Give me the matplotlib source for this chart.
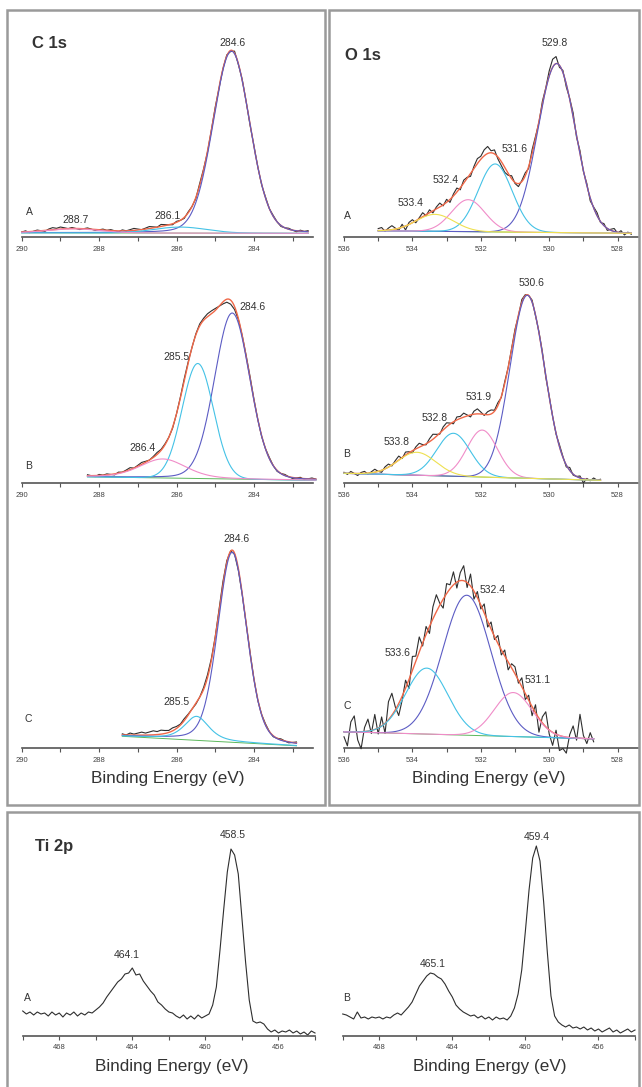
import numpy as np
import matplotlib
matplotlib.use("Agg")
import matplotlib.pyplot as plt
from matplotlib.patches import Rectangle

plt.rcParams['font.family'] = ['Liberation Sans', 'DejaVu Sans']

# ---------------- DATA ----------------
# Fitted components: centre (eV), height (a.u. above baseline), FWHM (eV), Lorentzian fraction
c1s_a_range = (290.0, 282.6)
c1s_a_base = (4.5, 4.0)
c1s_a_centers = [284.58, 285.9, 288.65]
c1s_a_heights = [182, 6, 4]
c1s_a_fwhm = [1.12, 1.6, 1.6]
c1s_a_eta = [0.12, 0.0, 0.0]
c1s_a_resid = [0, 1, -1, 0, 1, 0, -1, 1, 2, 1, 2, 1, 0, 1, 0, -1, 0, 1, 0, -1,
               0, 1, 0, 1, 0, -1, 1, 0, 1, 2, 1, 0, 1, 2, 1, 0, 2, 1, 0, -1,
               1, 0, -1, 1, 0, -1, 2, 1, -1, 0, 1, -1, 0, 1, -1, 2, -1, 1, 0, -1,
               1, 0, -1, 1, 0, 1, 0, -1, 0, 1, 0, -1, 1, 0, 1]
c1s_a_labels = ["284.6", "286.1", "288.7"]

c1s_b_range = (288.3, 282.4)
c1s_b_base = (6.5, 3.0)
c1s_b_centers = [284.56, 285.45, 286.35]
c1s_b_heights = [166, 115, 19]
c1s_b_fwhm = [1.08, 0.95, 1.4]
c1s_b_eta = [0.1, 0.0, 0.3]
c1s_b_resid = [1, 0, -1, 1, 0, 1, 0, -1, 1, 0, 1, 2, 0, 1, 2, 1, 0, 1, 2, 1,
               1, 0, -1, 0, 1, 2, 1, 0, 1, 2, 2, 3, 3, 2, 0, -2, -3, -4, -3, -1,
               0, 1, 2, 1, 0, -1, 0, 1, 0, -1, 0, 1, 0, -1, 0, 1, -1, 0, 1, 0]
c1s_b_labels = ["284.6", "285.5", "286.4"]

c1s_c_range = (287.4, 282.9)
c1s_c_base = (12.0, 2.5)
c1s_c_centers = [284.56, 285.48]
c1s_c_heights = [190, 24]
c1s_c_fwhm = [0.88, 0.75]
c1s_c_eta = [0.2, 0.6]
c1s_c_resid = [1, 0, 2, 1, 2, 3, 2, 3, 4, 3, 4, 3, 2, 3, 2, 1, 2, 1, 0, -1,
               0, 2, 3, 2, 1, 2, 3, 2, 0, -1, -2, -1, 0, 1, 0, -1, 0, 1, 0, -1,
               0, 1, 0, -1, 0, 1]
c1s_c_labels = ["284.6", "285.5"]

o1s_a_range = (535.0, 527.6)
o1s_a_base = (6.5, 4.0)
o1s_a_centers = [529.78, 531.58, 532.37, 533.34]
o1s_a_heights = [169, 68, 32, 17]
o1s_a_fwhm = [1.3, 1.17, 1.15, 1.3]
o1s_a_eta = [0.0, 0.0, 0.0, 0.0]
o1s_a_resid = [2, 3, -1, 2, 4, 1, -2, 3, -4, 2, 3, -2, 1, 4, -1, 3, -2, 2, 4, -1,
               3, -3, 2, 4, -2, 3, 1, -3, 2, 5, 3, 6, 7, 2, 4, -2, -4, -5, -2, 3,
               -1, -3, 1, 3, -2, 4, 2, -1, 3, 1, 5, 8, 7, -2, 2, -3, 1, 4, -2, 3,
               -1, 2, -3, 1, 3, -1, 2, -2, 1, 3, -1, 2, -2, 1, -1]
o1s_a_labels = ["529.8", "531.6", "532.4", "533.4"]

o1s_b_range = (536.0, 528.5)
o1s_b_base = (10.0, 3.0)
o1s_b_centers = [530.64, 531.96, 532.8, 533.87]
o1s_b_heights = [183, 47, 43, 23]
o1s_b_fwhm = [1.19, 1.05, 1.15, 1.3]
o1s_b_eta = [0.0, 0.0, 0.0, 0.0]
o1s_b_resid = [1, -1, 2, 0, -2, 1, 2, -1, 1, 3, 0, -2, 2, 3, -1, 2, 4, -1, 3, 1,
               -2, 2, 4, 1, -1, 3, 5, 2, -1, 3, 4, 1, -2, 3, 2, 4, 1, -2, 3, 5,
               2, -1, 3, 4, 1, 3, -1, 2, 0, 1, 2, -1, 3, 1, 0, 2, -1, 1, 2, -2,
               1, 0, -1, 2, 1, -2, 3, -1, 0, 2, -4, 1, -1, 2, 0, 1]
o1s_b_labels = ["530.6", "531.9", "532.8", "533.8"]

o1s_c_range = (536.0, 528.7)
o1s_c_base = (16.5, 9.5)
o1s_c_centers = [532.41, 533.58, 531.05]
o1s_c_heights = [140, 66, 44]
o1s_c_fwhm = [1.66, 1.45, 1.3]
o1s_c_eta = [0.0, 0.0, 0.0]
o1s_c_resid = [-5, -14, 10, 16, -8, -17, 4, 12, -3, 15, -6, 9, -10, 18, 22, 3, -12, -4, 8, -9,
               14, 5, 15, -3, 8, -7, 12, 17, 2, -9, 10, 4, 13, -6, 8, 15, -5, 12, -8, 6,
               -4, 9, -6, 7, -3, 8, -5, 6, -8, 4, 7, -3, 9, -6, 5, -9, 8, -14, 6, 15,
               -4, -13, 4, -15, -12, -16, 3, 12, -2, 24, 3, -5, 6, -3]
o1s_c_labels = ["532.4", "533.6", "531.1"]

# Ti 2p raw spectra, 470 -> 454 eV
ti_range = (470.0, 454.0)
ti_a = [25, 22, 24, 21, 24, 22, 23, 20, 24, 21, 23, 19, 23, 21, 24, 20, 23, 21, 24, 23, 26,
        29, 33, 39, 44, 49, 54, 57, 62, 63, 68, 61, 62, 55, 50, 45, 41, 34, 31, 27, 24,
        23, 20, 18, 21, 17, 20, 17, 21, 18, 20,
        22, 31, 49, 86, 126, 164, 187, 181, 162, 118, 74, 36, 15, 13, 14, 12, 7, 4, 6, 3,
        5, 4, 6, 3, 5, 2, 4, 1, 5, 3]
ti_b = [22, 21, 19, 17, 24, 18, 19, 17, 19, 18, 19, 17, 19, 18, 21, 23, 21, 25, 29, 34, 42,
        50, 55, 60, 63, 62, 59, 57, 52, 45, 39, 31, 27, 24, 22, 20, 21, 18, 20, 17, 19,
        16, 19, 17, 18, 16, 20, 28, 42, 66, 105,
        146, 178, 190, 175, 134, 84, 40, 20, 14, 11, 9, 11, 8, 9, 7, 9, 6, 8, 5, 7,
        4, 6, 8, 4, 6, 3, 5, 7, 4, 6]
ti_a_labels = ["458.5", "464.1"]
ti_b_labels = ["459.4", "465.1"]

# ---------------- STYLE ----------------
W, H = 642, 1087
fig = plt.figure(figsize=(W / 100, H / 100), dpi=100)

RAW = "#2e2e2e"
ENV = "#f06848"
BLUE = "#5c5cc4"
CYAN = "#44c2e6"
PINK = "#f08cc8"
YELL = "#eee050"
GREEN = "#5cb85c"
AX = "#555555"
TXT = "#333333"


def fig_text(x, y, s, size=7.5, ha="center", weight="normal"):
    fig.text(x / W, 1 - y / H, s, fontsize=size, ha=ha, va="center",
             color=TXT, weight=weight)


def make_axes(left, right, bottom, xlim, major, minor):
    ax = fig.add_axes([left / W, 1 - bottom / H, (right - left) / W, 200 / H])
    ax.set_xlim(*xlim)
    ax.set_ylim(0, 200)
    ax.patch.set_alpha(0)
    for s in ("top", "right", "left"):
        ax.spines[s].set_visible(False)
    ax.spines["bottom"].set_color(AX)
    ax.spines["bottom"].set_linewidth(1.2)
    ax.set_yticks([])
    ax.set_xticks(major)
    ax.set_xticklabels([str(int(v)) for v in major])
    ax.set_xticks(minor, minor=True)
    ax.tick_params(axis="x", which="both", direction="out", length=3, width=0.8,
                   color=AX, labelsize=5.5, labelcolor="#444444", pad=3)
    return ax


def pv(e, c, h, w, eta):
    x = (e - c) / w
    return h * ((1 - eta) * np.exp(-4 * np.log(2) * x ** 2) + eta / (1 + 4 * x ** 2))


def fitted_panel(ax, rng, base, centers, heights, fwhm, eta, resid, colors):
    e_fine = np.linspace(rng[0], rng[1], 500)
    b_fine = np.linspace(base[0], base[1], 500)
    comps = [pv(e_fine, c, h, w, t) for c, h, w, t in zip(centers, heights, fwhm, eta)]
    env = b_fine + np.sum(comps, axis=0)
    e_raw = np.linspace(rng[0], rng[1], len(resid))
    b_raw = np.linspace(base[0], base[1], len(resid))
    raw = b_raw + np.sum([pv(e_raw, c, h, w, t) for c, h, w, t in
                          zip(centers, heights, fwhm, eta)], axis=0) + np.array(resid)
    ax.plot(e_raw, raw, color=RAW, lw=0.8, zorder=3, clip_on=False)
    ax.plot(e_fine, env, color=ENV, lw=1.0, zorder=4, clip_on=False)
    ax.plot(e_fine, b_fine, color=GREEN, lw=0.7, zorder=2, clip_on=False)
    for comp, col in zip(comps, colors):
        ax.plot(e_fine, b_fine + comp, color=col, lw=0.8, zorder=5, clip_on=False)


# ---------------- FRAMES ----------------
for (x0, y0, x1, y1) in [(7, 10, 325, 805), (329, 10, 639, 805), (7, 812, 639, 1095)]:
    fig.patches.append(Rectangle((x0 / W, 1 - y1 / H), (x1 - x0) / W, (y1 - y0) / H,
                                 transform=fig.transFigure, fill=False,
                                 edgecolor="#9a9a9a", lw=1.8, zorder=0))

# ---------------- C 1s ----------------
c_major = [290, 288, 286, 284]
c_minor = [289, 287, 285, 283]
c_xlim = (290, 290 - 291.6 / 38.7)
axA = make_axes(21.7, 313.3, 237.3, c_xlim, c_major, c_minor)
fitted_panel(axA, c1s_a_range, c1s_a_base, c1s_a_centers, c1s_a_heights, c1s_a_fwhm,
             c1s_a_eta, c1s_a_resid, [BLUE, CYAN, PINK])
axB = make_axes(21.7, 313.3, 483.3, c_xlim, c_major, c_minor)
fitted_panel(axB, c1s_b_range, c1s_b_base, c1s_b_centers, c1s_b_heights, c1s_b_fwhm,
             c1s_b_eta, c1s_b_resid, [BLUE, CYAN, PINK])
axC = make_axes(21.7, 313.3, 748.3, c_xlim, c_major, c_minor)
fitted_panel(axC, c1s_c_range, c1s_c_base, c1s_c_centers, c1s_c_heights, c1s_c_fwhm,
             c1s_c_eta, c1s_c_resid, [BLUE, CYAN])

fig_text(32, 44, "C 1s", size=12, ha="left", weight="bold")
fig_text(232, 43, c1s_a_labels[0])
fig_text(168, 216, c1s_a_labels[1])
fig_text(76, 220, c1s_a_labels[2])
fig_text(29, 212, "A")
fig_text(253, 307, c1s_b_labels[0])
fig_text(177, 357, c1s_b_labels[1])
fig_text(142, 448, c1s_b_labels[2])
fig_text(29, 466, "B")
fig_text(236, 539, c1s_c_labels[0])
fig_text(177, 702, c1s_c_labels[1])
fig_text(28, 719, "C")
fig_text(168, 778, "Binding Energy (eV)", size=12.3)

# ---------------- O 1s ----------------
o_major = [536, 534, 532, 530, 528]
o_minor = [535, 533, 531, 529]
o_xlim = (536, 536 - 294.3 / 34.2)
axOA = make_axes(344, 638.3, 237.3, o_xlim, o_major, o_minor)
fitted_panel(axOA, o1s_a_range, o1s_a_base, o1s_a_centers, o1s_a_heights, o1s_a_fwhm,
             o1s_a_eta, o1s_a_resid, [BLUE, CYAN, PINK, YELL])
axOB = make_axes(344, 638.3, 483.3, o_xlim, o_major, o_minor)
fitted_panel(axOB, o1s_b_range, o1s_b_base, o1s_b_centers, o1s_b_heights, o1s_b_fwhm,
             o1s_b_eta, o1s_b_resid, [BLUE, PINK, CYAN, YELL])
axOC = make_axes(344, 638.3, 748.3, o_xlim, o_major, o_minor)
fitted_panel(axOC, o1s_c_range, o1s_c_base, o1s_c_centers, o1s_c_heights, o1s_c_fwhm,
             o1s_c_eta, o1s_c_resid, [BLUE, CYAN, PINK])

fig_text(345, 55, "O 1s", size=12, ha="left", weight="bold")
fig_text(555, 43, o1s_a_labels[0])
fig_text(515, 149, o1s_a_labels[1])
fig_text(446, 180, o1s_a_labels[2])
fig_text(411, 203, o1s_a_labels[3])
fig_text(347, 216, "A")
fig_text(532, 283, o1s_b_labels[0])
fig_text(479, 397, o1s_b_labels[1])
fig_text(435, 418, o1s_b_labels[2])
fig_text(397, 442, o1s_b_labels[3])
fig_text(347, 454, "B")
fig_text(493, 590, o1s_c_labels[0])
fig_text(398, 653, o1s_c_labels[1])
fig_text(538, 680, o1s_c_labels[2])
fig_text(347, 706, "C")
fig_text(489, 778, "Binding Energy (eV)", size=12.3)

# ---------------- Ti 2p ----------------
t_major = [468, 464, 460, 456]
t_minor = [470, 466, 462, 458, 454]
axTA = make_axes(22.7, 315, 1036, ti_range, t_major, t_minor)
e_ti = np.linspace(ti_range[0], ti_range[1], len(ti_a))
axTA.plot(e_ti, ti_a, color=RAW, lw=0.8, clip_on=False)
axTB = make_axes(342.7, 635, 1036, ti_range, t_major, t_minor)
e_tib = np.linspace(ti_range[0], ti_range[1], len(ti_b))
axTB.plot(e_tib, ti_b, color=RAW, lw=0.8, clip_on=False)

fig_text(35, 847, "Ti 2p", size=12, ha="left", weight="bold")
fig_text(233, 835, ti_a_labels[0])
fig_text(127, 955, ti_a_labels[1])
fig_text(27, 998, "A")
fig_text(537, 837, ti_b_labels[0])
fig_text(433, 964, ti_b_labels[1])
fig_text(347, 998, "B")
fig_text(172, 1066, "Binding Energy (eV)", size=12.3)
fig_text(490, 1066, "Binding Energy (eV)", size=12.3)

fig.savefig("out.png", dpi=100, facecolor="white")
